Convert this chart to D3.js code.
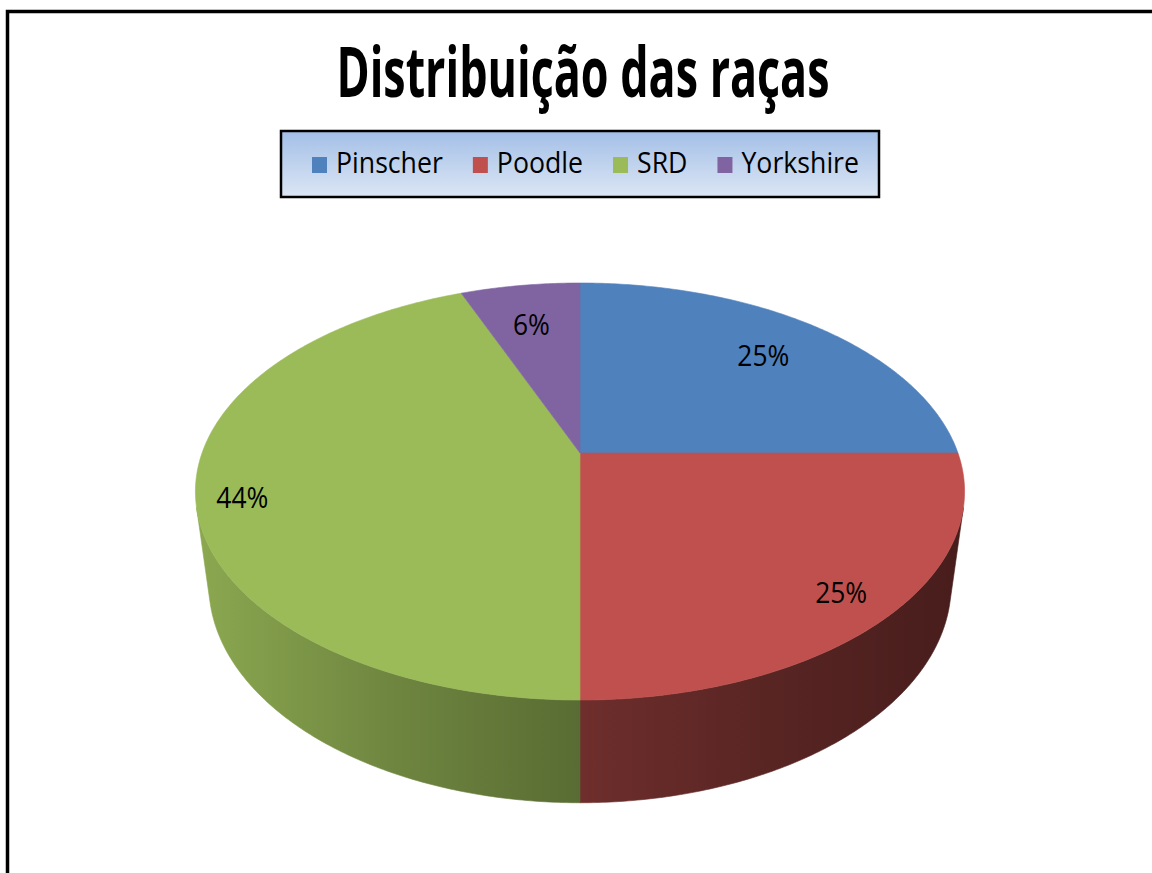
<!DOCTYPE html>
<html>
<head>
<meta charset="utf-8">
<script src="https://cdnjs.cloudflare.com/ajax/libs/d3/7.8.5/d3.min.js"></script>
<style>
  body { margin: 0; background: #fff; }
  svg { display: block; }
</style>
</head>
<body>
<div id="chart-area"></div>
<script>
// Data
const categories = ['Pinscher', 'Poodle', 'SRD', 'Yorkshire'];
const values = [25, 25, 44, 6];
const colors = ['#4f81bd', '#c0504d', '#9bbb59', '#8064a2'];
const chartTitle = 'Distribuição das raças';

const width = 1152;
const height = 873;
const font = '"Open Sans", "Noto Sans", sans-serif';

const svg = d3.select('#chart-area')
    .append('svg')
        .attr('width', width)
        .attr('height', height);

const defs = svg.append('defs');

// Frame (only the top and left edges are in view)
svg.append('path')
    .attr('d', 'M7.5,' + height + ' V11.5 H' + width)
    .attr('fill', 'none')
    .attr('stroke', '#000')
    .attr('stroke-width', 3.5);

// Title
svg.append('text')
    .attr('x', 583)
    .attr('y', 97)
    .attr('text-anchor', 'middle')
    .attr('font-family', font)
    .attr('font-weight', 700)
    .attr('font-size', 70)
    .attr('textLength', 493)
    .attr('lengthAdjust', 'spacingAndGlyphs')
    .text(chartTitle);

// Legend box
const legendFill = defs.append('linearGradient')
    .attr('id', 'legend-fill')
    .attr('x1', 0).attr('x2', 0)
    .attr('y1', 0).attr('y2', 1);
legendFill.append('stop').attr('offset', 0).attr('stop-color', '#a3bfe7');
legendFill.append('stop').attr('offset', 1).attr('stop-color', '#dce6f4');

svg.append('rect')
    .attr('x', 281)
    .attr('y', 131)
    .attr('width', 598)
    .attr('height', 66)
    .attr('fill', 'url(#legend-fill)')
    .attr('stroke', '#000')
    .attr('stroke-width', 2.5);

const legend = svg.append('g');
const items = legend.selectAll('g')
    .data(categories)
    .enter()
    .append('g');

items.append('rect')
    .attr('width', 15)
    .attr('height', 16)
    .attr('y', 157)
    .attr('fill', (d, i) => colors[i]);

const legendTexts = items.append('text')
    .attr('y', 173)
    .attr('font-family', font)
    .attr('font-size', 30)
    .attr('fill', '#000')
    .text((d) => d);

// condense the legend labels the way the picture does
const rawWidths = [];
legendTexts.each(function () { rawWidths.push(this.getComputedTextLength()); });
const legendSqueeze = 361 / d3.sum(rawWidths);
let lx = 312;
items.each(function (d, i) {
    const g = d3.select(this);
    const tw = rawWidths[i] * legendSqueeze;
    g.select('rect').attr('x', lx);
    g.select('text')
        .attr('x', lx + 24)
        .attr('textLength', tw)
        .attr('lengthAdjust', 'spacingAndGlyphs');
    lx += 24 + tw + 30;
});

// 3D pie: perspective camera looking down on a disc
const cx = 580, cy = 453;
const tilt = 32.2 * Math.PI / 180;
const dist = 4.58;
const focal = 1731;
const thick = 0.30;

const project = (theta, r, depth) => {
    const u = r * Math.sin(theta);
    const v = r * Math.cos(theta);
    const den = dist + depth * Math.sin(tilt) + v * Math.cos(tilt);
    return [
        cx + focal * u / den,
        cy - focal * (v * Math.sin(tilt) - depth * Math.cos(tilt)) / den
    ];
};

const arcPoints = (a0, a1, depth) => {
    const n = Math.max(2, Math.ceil(Math.abs(a1 - a0) / 0.01));
    return d3.range(n + 1).map((i) => project(a0 + (a1 - a0) * i / n, 1, depth));
};

const pie = d3.pie().sort(null).value((d) => d);
const slices = pie(values);
const line = d3.line();

// visible part of the outer wall
const edge = Math.acos(-1 / (dist * Math.cos(tilt)));
const wallFrom = edge, wallTo = 2 * Math.PI - edge;

// shading across the wall, lighter on the left
const xShade = d3.scaleLinear().domain([198, 962]).range([0.3, 2.8]);
slices.forEach((d, i) => {
    const grad = defs.append('linearGradient')
        .attr('id', 'wall-' + i)
        .attr('gradientUnits', 'userSpaceOnUse')
        .attr('x1', 198).attr('x2', 962)
        .attr('y1', 0).attr('y2', 0);
    d3.range(0, 1.01, 0.25).forEach((t) => {
        grad.append('stop')
            .attr('offset', t)
            .attr('stop-color', d3.color(colors[i]).darker(xShade(198 + t * 764)));
    });
});

const walls = slices.filter((d) => d.endAngle > wallFrom && d.startAngle < wallTo);
svg.append('g')
    .selectAll('path')
    .data(walls)
    .enter()
    .append('path')
        .attr('d', (d) => {
            const a0 = Math.max(d.startAngle, wallFrom);
            const a1 = Math.min(d.endAngle, wallTo);
            const pts = arcPoints(a0, a1, 0).concat(arcPoints(a1, a0, thick));
            return line(pts) + 'Z';
        })
        .attr('fill', (d) => 'url(#wall-' + d.index + ')')
        .attr('stroke', (d) => 'url(#wall-' + d.index + ')')
        .attr('stroke-width', 0.6);

// top face
svg.append('g')
    .selectAll('path')
    .data(slices)
    .enter()
    .append('path')
        .attr('d', (d) => line([project(0, 0, 0)].concat(arcPoints(d.startAngle, d.endAngle, 0))) + 'Z')
        .attr('fill', (d, i) => colors[i])
        .attr('stroke', (d, i) => colors[i])
        .attr('stroke-width', 0.6);

// percentage labels (pushed further out on the near side)
const total = d3.sum(values);
const labels = svg.append('g')
    .selectAll('text')
    .data(slices)
    .enter()
    .append('text')
        .attr('text-anchor', 'middle')
        .attr('font-family', font)
        .attr('font-size', 30)
        .attr('fill', '#000')
        .attr('transform', (d) => {
            const mid = (d.startAngle + d.endAngle) / 2;
            const r = 0.81 - 0.08 * Math.cos(mid) + 0.06 * Math.max(0, -Math.sin(mid));
            const p = project(mid - 0.05 * Math.max(0, -Math.sin(mid)), r, 0);
            return 'translate(' + p[0] + ',' + (p[1] + 11) + ')';
        })
        .text((d) => Math.round(d.value / total * 100) + '%');

labels.each(function () {
    d3.select(this)
        .attr('textLength', this.getComputedTextLength() * 0.88)
        .attr('lengthAdjust', 'spacingAndGlyphs');
});
</script>
</body>
</html>
